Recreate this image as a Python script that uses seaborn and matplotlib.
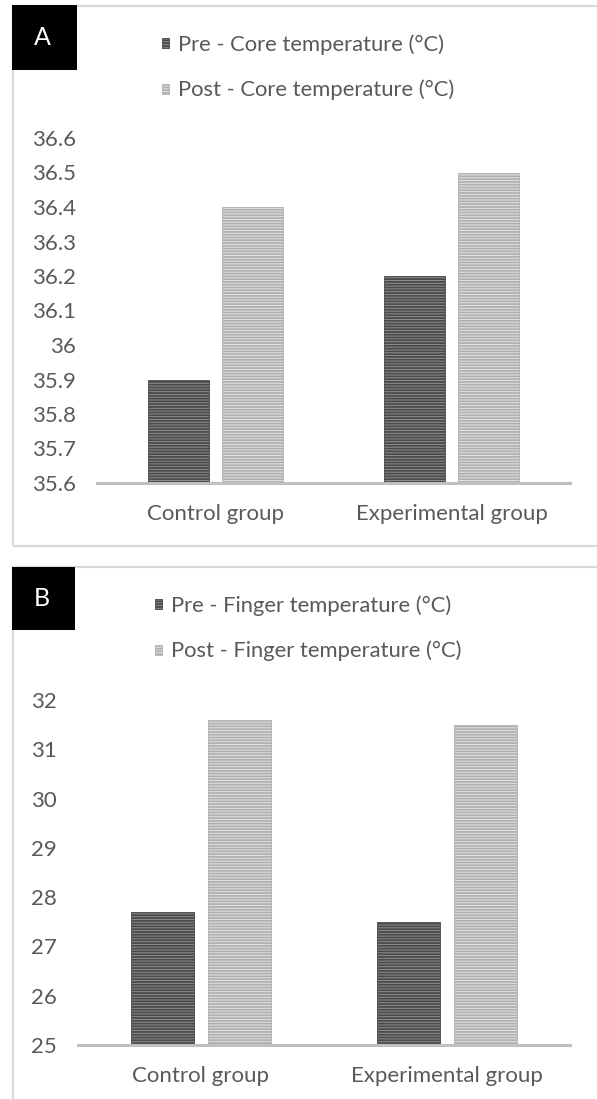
import numpy as np
import pandas as pd
import matplotlib
matplotlib.use("Agg")
import matplotlib.pyplot as plt
import matplotlib.patches as mpatches
from matplotlib.ticker import FuncFormatter
import seaborn as sns

groups = ["Control group", "Experimental group"]
core_pre = [35.9, 36.2]
core_post = [36.4, 36.5]
finger_pre = [27.7, 27.5]
finger_post = [31.6, 31.5]

core_labels = ["Pre - Core temperature (°C)", "Post - Core temperature (°C)"]
finger_labels = ["Pre - Finger temperature (°C)", "Post - Finger temperature (°C)"]

sns.set_style("white")
plt.rcParams["font.family"] = ["Lato", "DejaVu Sans"]
plt.rcParams["hatch.linewidth"] = 1.3

TXT = "#595959"
FACE = ["#8e8e8e", "#e4e4e4"]
HATCH = ["#4a4a4a", "#b0b0b0"]
W, H = 597, 1099


def make_df(pre, post, labels):
    return pd.DataFrame({
        "group": groups * 2,
        "value": pre + post,
        "series": [labels[0]] * 2 + [labels[1]] * 2,
    })


def draw_panel(rect, df, labels, ylim, step, letter, frame, box, leg_xy):
    fig = plt.gcf()
    l, t, r, b = rect
    ax = fig.add_axes([l / W, 1 - b / H, (r - l) / W, (b - t) / H])
    sns.barplot(data=df, x="group", y="value", hue="series", hue_order=labels,
                palette=FACE, width=0.625, gap=0.17, ax=ax, legend=False,
                errorbar=None)
    for i, cont in enumerate(ax.containers):
        for p in cont:
            p.set_hatch("------")
            p.set_edgecolor(HATCH[i])
            p.set_linewidth(0.6)
    ax.set_ylim(*ylim)
    ax.set_xlim(-0.5, 1.5)
    ax.set_yticks(np.arange(ylim[0], ylim[1] + step / 2, step))
    ax.yaxis.set_major_formatter(FuncFormatter(lambda v, _: f"{round(v, 1):g}"))
    ax.set_xlabel("")
    ax.set_ylabel("")
    for s in ["top", "right", "left"]:
        ax.spines[s].set_visible(False)
    ax.spines["bottom"].set_color("#c0c0c0")
    ax.spines["bottom"].set_linewidth(2.2)
    ax.tick_params(axis="both", length=0, labelsize=16, labelcolor=TXT)
    ax.tick_params(axis="y", pad=15)
    ax.tick_params(axis="x", pad=15)

    handles = [mpatches.Patch(facecolor=FACE[i], edgecolor=HATCH[i],
                              hatch="------", linewidth=0.6) for i in range(2)]
    fig.legend(handles, labels, loc="upper left",
               bbox_to_anchor=(leg_xy[0] / W, 1 - leg_xy[1] / H),
               frameon=False, fontsize=15.8, labelcolor=TXT,
               handlelength=0.32, handleheight=0.32, handletextpad=0.4,
               labelspacing=1.15, borderpad=0, borderaxespad=0)

    fx0, fy0, fx1, fy1 = frame
    fig.patches.append(mpatches.Rectangle((fx0 / W, 1 - fy1 / H),
                                          (fx1 - fx0) / W, (fy1 - fy0) / H,
                                          transform=fig.transFigure,
                                          facecolor="none", edgecolor="#d9d9d9",
                                          linewidth=1.6, zorder=0))
    bx0, by0, bx1, by1 = box
    fig.patches.append(mpatches.Rectangle((bx0 / W, 1 - by1 / H),
                                          (bx1 - bx0) / W, (by1 - by0) / H,
                                          transform=fig.transFigure,
                                          facecolor="black", edgecolor="none",
                                          zorder=3))
    fig.text((bx0 + bx1) / 2 / W - 0.003, 1 - ((by0 + by1) / 2) / H, letter,
             color="white", fontsize=18, ha="center", va="center", zorder=4)


fig = plt.figure(figsize=(W / 100, H / 100), dpi=100)

draw_panel((97, 138, 570, 483), make_df(core_pre, core_post, core_labels),
           core_labels, (35.6, 36.6), 0.1, "A",
           (13, 6, 603, 546), (12, 5, 77, 70), (162, 34))

draw_panel((78, 700, 570, 1045), make_df(finger_pre, finger_post, finger_labels),
           finger_labels, (25, 32), 1, "B",
           (13, 567, 603, 1110), (12, 567, 75, 630), (155, 595))

plt.savefig("out.png", dpi=100)
